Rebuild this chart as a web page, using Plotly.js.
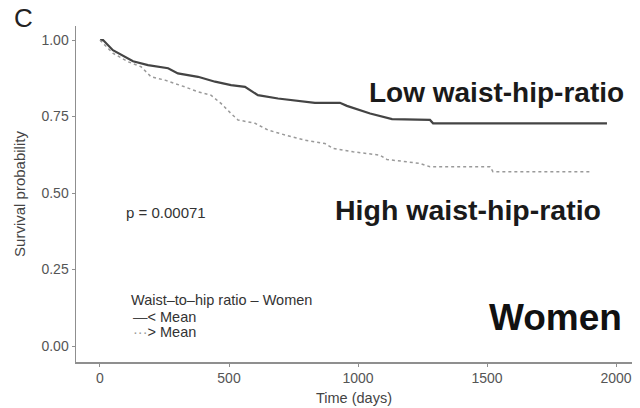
<!DOCTYPE html>
<html>
<head>
<meta charset="utf-8">
<script src="https://cdn.plot.ly/plotly-3.0.1.min.js"></script>
<style>
  html, body { margin: 0; padding: 0; background: #fff; }
  #chart { width: 640px; height: 408px; }
</style>
</head>
<body>
<div id="chart"></div>
<script>
// Kaplan-Meier survival estimates, women, split at the mean waist-to-hip ratio
const lowDays = [0, 12, 50, 89, 128, 186, 264, 302, 380, 446, 508, 562, 612, 690, 767, 833, 930, 957, 1047, 1132, 1279, 1291, 1965];
const lowSurv = [1.000, 1.000, 0.967, 0.949, 0.931, 0.918, 0.908, 0.891, 0.880, 0.864, 0.853, 0.847, 0.820, 0.809, 0.802, 0.795, 0.795, 0.785, 0.760, 0.742, 0.739, 0.728, 0.728];

const highDays = [0, 12, 50, 109, 159, 198, 252, 329, 380, 430, 469, 508, 535, 601, 651, 717, 795, 872, 903, 981, 1085, 1112, 1240, 1279, 1512, 1523, 1899];
const highSurv = [1.000, 0.990, 0.957, 0.929, 0.913, 0.880, 0.869, 0.847, 0.831, 0.820, 0.793, 0.760, 0.739, 0.728, 0.706, 0.690, 0.673, 0.662, 0.646, 0.635, 0.624, 0.610, 0.597, 0.586, 0.586, 0.570, 0.570];

const groupNames = ['< Mean', '> Mean'];
const legendTitle = 'Waist–to–hip ratio – Women';
const pValueText = 'p = 0.00071';
const xTicks = [0, 500, 1000, 1500, 2000];
const yTicks = [0, 0.25, 0.5, 0.75, 1];
const yTickText = ['0.00', '0.25', '0.50', '0.75', '1.00'];

const LOW_COLOR = '#444444';
const HIGH_COLOR = '#9a9a9a';
const FONT = 'Liberation Sans, Arial, sans-serif';

const traces = [
  {
    x: lowDays, y: lowSurv, name: groupNames[0], type: 'scatter', mode: 'lines',
    line: { color: LOW_COLOR, width: 2.2, shape: 'linear' }, hoverinfo: 'x+y+name'
  },
  {
    x: highDays, y: highSurv, name: groupNames[1], type: 'scatter', mode: 'lines',
    line: { color: HIGH_COLOR, width: 1.5, dash: 'dot', shape: 'linear' }, hoverinfo: 'x+y+name'
  }
];

const axisCommon = {
  showline: true, linecolor: '#8f8f8f', linewidth: 1.5,
  ticks: 'outside', ticklen: 3, tickwidth: 1, tickcolor: '#8f8f8f',
  showgrid: false, zeroline: false, mirror: false,
  tickfont: { family: FONT, size: 14, color: '#555' }
};

const layout = {
  width: 640, height: 408,
  margin: { l: 76, r: 8, t: 26, b: 46 },
  paper_bgcolor: '#fff', plot_bgcolor: '#fff',
  showlegend: false,
  font: { family: FONT, color: '#333' },
  xaxis: Object.assign({}, axisCommon, {
    range: [-93, 2062], tickvals: xTicks,
    title: { text: 'Time (days)', font: { family: FONT, size: 14.5, color: '#444' }, standoff: 7 }
  }),
  yaxis: Object.assign({}, axisCommon, {
    range: [-0.052, 1.046], tickvals: yTicks, ticktext: yTickText,
    title: { text: 'Survival probability', font: { family: FONT, size: 15, color: '#444' }, standoff: 12 }
  }),
  annotations: [
    { xref: 'paper', yref: 'paper', x: -0.115, y: 1.025, xanchor: 'left', yanchor: 'middle',
      text: 'C', showarrow: false, font: { family: FONT, size: 26, color: '#222' } },
    { x: 93, y: 0.438, xanchor: 'left', yanchor: 'middle', showarrow: false,
      text: pValueText, font: { family: FONT, size: 15, color: '#333' } },
    { x: 1035, y: 0.830, xanchor: 'left', yanchor: 'middle', showarrow: false,
      text: '<b>Low waist-hip-ratio</b>', font: { family: FONT, size: 28, color: '#1a1a1a' } },
    { x: 903, y: 0.444, xanchor: 'left', yanchor: 'middle', showarrow: false,
      text: '<b>High waist-hip-ratio</b>', font: { family: FONT, size: 28.5, color: '#1a1a1a' } },
    { x: 1500, y: 0.092, xanchor: 'left', yanchor: 'middle', showarrow: false,
      text: '<b>Women</b>', font: { family: FONT, size: 37, color: '#111' } },
    { x: 112, y: 0.150, xanchor: 'left', yanchor: 'middle', showarrow: false,
      text: legendTitle, font: { family: FONT, size: 14.5, color: '#333' } },
    { x: 120, y: 0.095, xanchor: 'left', yanchor: 'middle', showarrow: false,
      text: '<span style="color:' + LOW_COLOR + '">—</span>' + groupNames[0],
      font: { family: FONT, size: 14.5, color: '#333' } },
    { x: 120, y: 0.046, xanchor: 'left', yanchor: 'middle', showarrow: false,
      text: '<span style="color:' + HIGH_COLOR + '">···</span>' + groupNames[1],
      font: { family: FONT, size: 14.5, color: '#333' } }
  ]
};

Plotly.newPlot('chart', traces, layout, { staticPlot: true, displayModeBar: false });
</script>
</body>
</html>
